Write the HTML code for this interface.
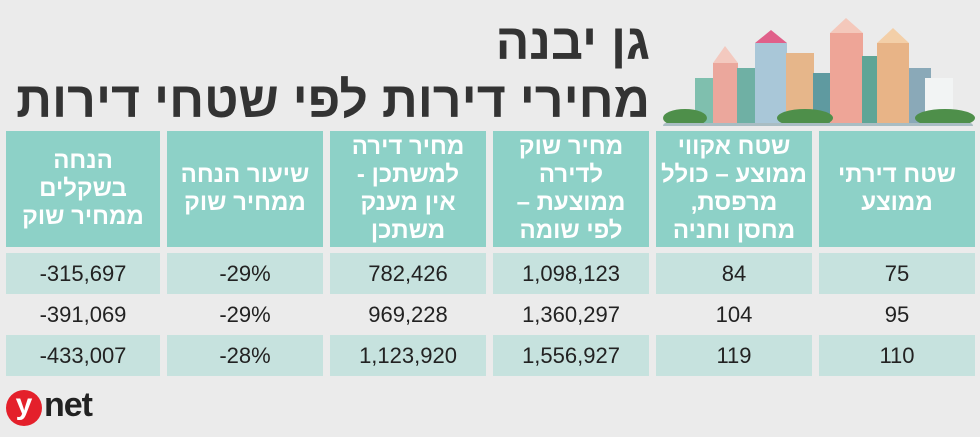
<!DOCTYPE html>
<html><head><meta charset="utf-8"><style>
body{margin:0;width:980px;height:437px;background:#ebebeb;position:relative;overflow:hidden;font-family:"Liberation Sans","Noto Sans CJK SC",sans-serif}
.t1{position:absolute;right:330px;top:12px;font-size:50px;font-weight:bold;color:#333;direction:rtl;line-height:60px}
.t2{position:absolute;right:330px;top:70px;font-size:50px;font-weight:bold;color:#333;direction:rtl;line-height:60px;white-space:nowrap}
.c{position:absolute;display:flex;align-items:center;justify-content:center;text-align:center;direction:rtl}
.h{background:#8dd1c7;color:#fff;font-weight:bold;font-size:24px;line-height:28px;top:131px;height:116px;width:156px}
.d{color:#222;font-size:22px;height:41px;width:156px;direction:ltr}
.r{background:#c6e2de}
</style></head><body>
<div class="t1">גן יבנה</div>
<div class="t2">מחירי דירות לפי שטחי דירות</div>
<svg style="position:absolute;left:655px;top:8px" width="325" height="118">
<rect x="40" y="70" width="22" height="45" fill="#7fbfae"/>
<rect x="58" y="55" width="25" height="60" fill="#eba79c"/>
<polygon points="58,55 70,38 83,55" fill="#f3c9bf"/>
<rect x="82" y="60" width="20" height="55" fill="#6fb0a4"/>
<rect x="100" y="35" width="32" height="80" fill="#a9c7d8"/>
<polygon points="100,35 116,22 132,35" fill="#e0608a"/>
<rect x="131" y="45" width="28" height="70" fill="#e6b68a"/>
<rect x="158" y="65" width="20" height="50" fill="#5f9aa0"/>
<rect x="175" y="25" width="33" height="90" fill="#eea597"/>
<polygon points="175,25 191,10 208,25" fill="#f4c8bb"/>
<rect x="207" y="48" width="25" height="67" fill="#5fa596"/>
<rect x="222" y="35" width="32" height="80" fill="#e8b487"/>
<polygon points="222,35 238,20 254,35" fill="#f3cfa8"/>
<rect x="254" y="60" width="22" height="55" fill="#8aa9b8"/>
<rect x="270" y="70" width="28" height="45" fill="#f2f4f4"/>
<ellipse cx="30" cy="110" rx="22" ry="9" fill="#4e8f4a"/>
<ellipse cx="150" cy="110" rx="28" ry="9" fill="#4e8f4a"/>
<ellipse cx="290" cy="110" rx="30" ry="9" fill="#4e8f4a"/>
<rect x="8" y="115" width="310" height="7" rx="3" fill="#a9bdc3"/>
</svg>
<div class="c h" style="left:819px">שטח דירתי<br>ממוצע</div>
<div class="c h" style="left:656px">שטח אקווי<br>ממוצע – כולל<br>מרפסת,<br>מחסן וחניה</div>
<div class="c h" style="left:493px">מחיר שוק<br>לדירה<br>ממוצעת –<br>לפי שומה</div>
<div class="c h" style="left:330px">מחיר דירה<br>למשתכן -<br>אין מענק<br>משתכן</div>
<div class="c h" style="left:167px">שיעור הנחה<br>ממחיר שוק</div>
<div class="c h" style="left:6px;width:154px">הנחה<br>בשקלים<br>ממחיר שוק</div>

<div class="c d r" style="left:819px;top:253px">75</div>
<div class="c d r" style="left:656px;top:253px">84</div>
<div class="c d r" style="left:493px;top:253px">1,098,123</div>
<div class="c d r" style="left:330px;top:253px">782,426</div>
<div class="c d r" style="left:167px;top:253px">-29%</div>
<div class="c d r" style="left:6px;top:253px;width:154px">-315,697</div>

<div class="c d" style="left:819px;top:294px">95</div>
<div class="c d" style="left:656px;top:294px">104</div>
<div class="c d" style="left:493px;top:294px">1,360,297</div>
<div class="c d" style="left:330px;top:294px">969,228</div>
<div class="c d" style="left:167px;top:294px">-29%</div>
<div class="c d" style="left:6px;top:294px;width:154px">-391,069</div>

<div class="c d r" style="left:819px;top:335px">110</div>
<div class="c d r" style="left:656px;top:335px">119</div>
<div class="c d r" style="left:493px;top:335px">1,556,927</div>
<div class="c d r" style="left:330px;top:335px">1,123,920</div>
<div class="c d r" style="left:167px;top:335px">-28%</div>
<div class="c d r" style="left:6px;top:335px;width:154px">-433,007</div>

<div style="position:absolute;left:6px;top:390px;width:36px;height:36px;border-radius:50%;background:#e4202b;color:#fff;font-size:30px;font-weight:bold;text-align:center;line-height:30px">y</div>
<div style="position:absolute;left:44px;top:386px;font-size:34px;font-weight:bold;color:#222;letter-spacing:-1px">net</div>
</body></html>
